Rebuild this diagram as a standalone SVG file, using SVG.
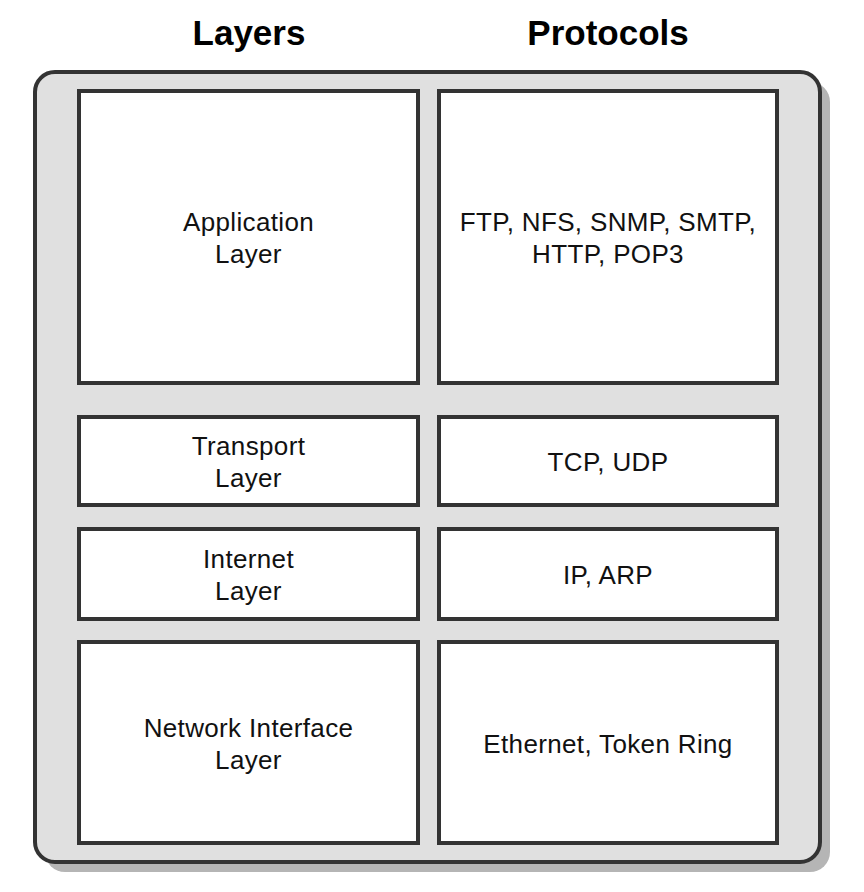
<svg xmlns="http://www.w3.org/2000/svg" width="864" height="892" viewBox="0 0 864 892">
  <style>
    .box { fill: #ffffff; stroke: #333333; stroke-width: 4; }
    .lbl { font-family: "Liberation Sans", Arial, sans-serif; font-size: 26px; letter-spacing: 0.35px; fill: #111111; text-anchor: middle; }
    .hdr { font-family: "Liberation Sans", Arial, sans-serif; font-size: 35px; font-weight: bold; fill: #000000; text-anchor: middle; }
  </style>
  <rect width="864" height="892" fill="#ffffff"/>
  <g id="headers">
    <text class="hdr" x="249" y="45">Layers</text>
    <text class="hdr" x="608" y="45">Protocols</text>
  </g>
  <g id="container">
    <rect x="45" y="82" width="785" height="790" rx="20" fill="#b5b5b5"/>
    <rect x="35" y="72" width="785" height="790" rx="20" fill="#e0e0e0" stroke="#333333" stroke-width="4"/>
  </g>
  <g id="application-layer">
    <rect class="box" x="79" y="91" width="339" height="292"/>
    <text class="lbl" x="248.5" y="231">Application</text>
    <text class="lbl" x="248.5" y="263">Layer</text>
  </g>
  <g id="application-protocols">
    <rect class="box" x="439" y="91" width="338" height="292"/>
    <text class="lbl" x="608" y="231">FTP, NFS, SNMP, SMTP,</text>
    <text class="lbl" x="608" y="263">HTTP, POP3</text>
  </g>
  <g id="transport-layer">
    <rect class="box" x="79" y="417" width="339" height="88"/>
    <text class="lbl" x="248.5" y="455">Transport</text>
    <text class="lbl" x="248.5" y="487">Layer</text>
  </g>
  <g id="transport-protocols">
    <rect class="box" x="439" y="417" width="338" height="88"/>
    <text class="lbl" x="608" y="471">TCP, UDP</text>
  </g>
  <g id="internet-layer">
    <rect class="box" x="79" y="529" width="339" height="90"/>
    <text class="lbl" x="248.5" y="568">Internet</text>
    <text class="lbl" x="248.5" y="600">Layer</text>
  </g>
  <g id="internet-protocols">
    <rect class="box" x="439" y="529" width="338" height="90"/>
    <text class="lbl" x="608" y="584">IP, ARP</text>
  </g>
  <g id="network-interface-layer">
    <rect class="box" x="79" y="642" width="339" height="201"/>
    <text class="lbl" x="248.5" y="737">Network Interface</text>
    <text class="lbl" x="248.5" y="769">Layer</text>
  </g>
  <g id="network-interface-protocols">
    <rect class="box" x="439" y="642" width="338" height="201"/>
    <text class="lbl" x="608" y="753">Ethernet, Token Ring</text>
  </g>
  <g id="connectors"></g>
</svg>
